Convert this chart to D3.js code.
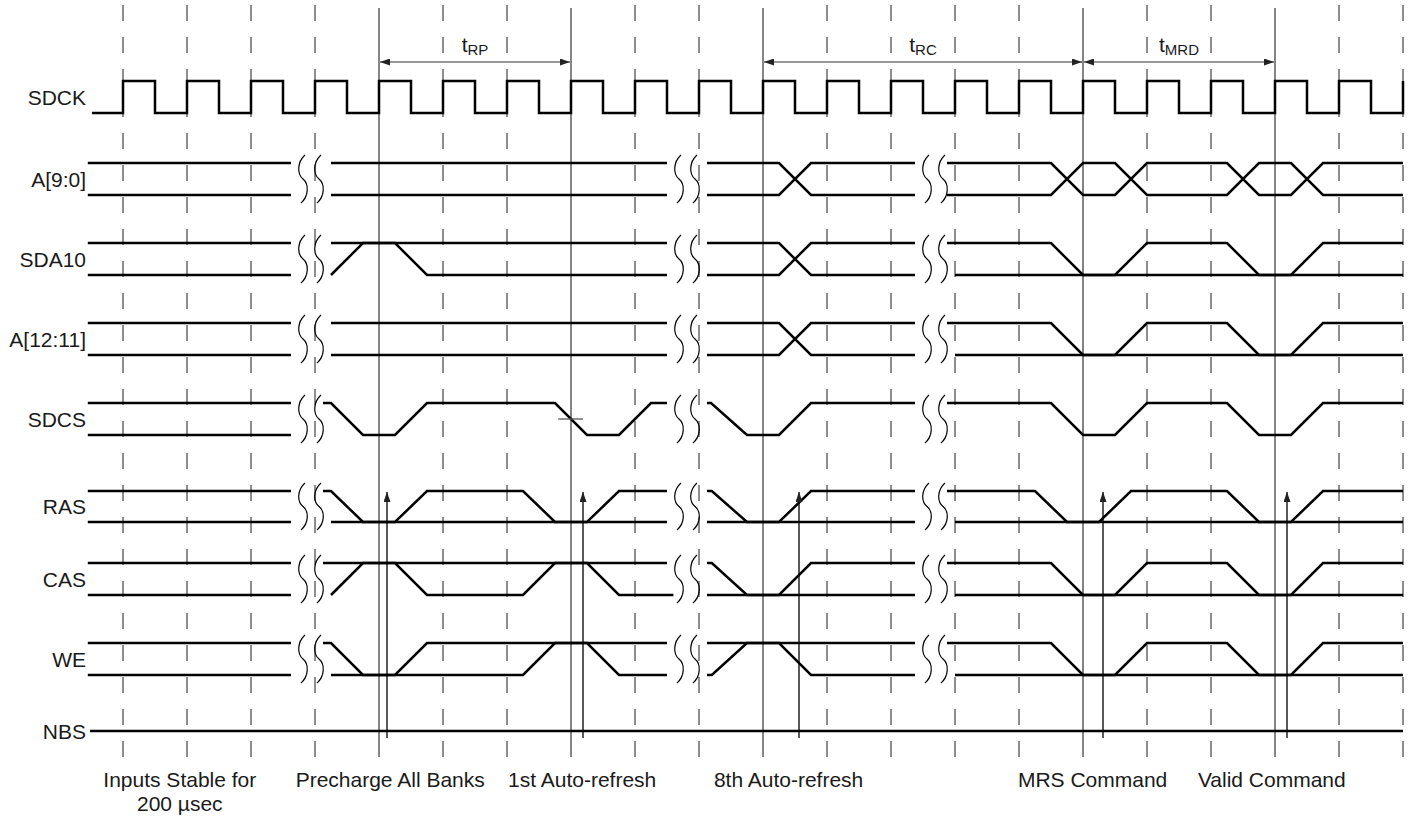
<!DOCTYPE html>
<html>
<head>
<meta charset="utf-8">
<script src="https://cdn.jsdelivr.net/npm/d3@7"></script>
<style>
  html, body { margin: 0; padding: 0; background: #fff; }
  svg { display: block; }
  text { font-family: "Liberation Sans", Arial, Helvetica, sans-serif; fill: #1a1a1a; }
</style>
</head>
<body>
<svg id="chart" width="1415" height="821"></svg>
<script>
// time unit = quarter of a clock period; clock rising edges every 4 units

// clock rising edges and half period
const clockRise = [0, 4, 8, 12, 16, 20, 24, 28, 32, 36, 40, 44, 48, 52, 56, 60, 64, 68, 72, 76, 80];
const clockHigh = 2;
const clockStart = -1.94;

// edges drawn as solid reference lines
const solidMarks = [16, 28, 40, 60, 72];

// timing spans on top
const spanLabels = ["RP", "RC", "MRD"];
const spanFrom = [16, 40, 60];
const spanTo = [28, 60, 72];

// command strobes (upward arrows)
const strobes = [16.5, 28.75, 42.25, 61.25, 72.75];

// bottom captions
const captions = [["Inputs Stable for", "200 \u00b5sec"], ["Precharge All Banks"], ["1st Auto-refresh"],
                  ["8th Auto-refresh"], ["MRS Command"], ["Valid Command"]];
const captionAt = [3.55, 16.7, 28.7, 41.6, 60.6, 71.8];

// break marks (end of drawn segment)
const breakEnd = [10.5, 34, 49.5];

// signal names
const signals = ["SDCK", "A[9:0]", "SDA10", "A[12:11]", "SDCS", "RAS", "CAS", "WE", "NBS"];

// waveforms: lists of polylines of [time, level]
const waveA90 = [
  [[-2.2, 1], [10.5, 1]], [[-2.2, 0], [10.5, 0]],
  [[13, 1], [34, 1]], [[13, 0], [34, 0]],
  [[36.5, 1], [41, 1], [43, 0], [49.5, 0]], [[36.5, 0], [41, 0], [43, 1], [49.5, 1]],
  [[51.5, 1], [58, 1], [60, 0], [62, 0], [64, 1], [69, 1], [71, 0], [73, 0], [75, 1], [80, 1]],
  [[51.5, 0], [58, 0], [60, 1], [62, 1], [64, 0], [69, 0], [71, 1], [73, 1], [75, 0], [80, 0]]
];
const waveSDA10 = [
  [[-2.2, 1], [10.5, 1]], [[-2.2, 0], [10.5, 0]],
  [[13, 1], [34, 1]], [[13, 0], [15, 1], [17, 1], [19, 0], [34, 0]],
  [[36.5, 1], [41, 1], [43, 0], [49.5, 0]], [[36.5, 0], [41, 0], [43, 1], [49.5, 1]],
  [[51.5, 1], [58, 1], [60, 0], [62, 0], [64, 1], [69, 1], [71, 0], [73, 0], [75, 1], [80, 1]],
  [[52, 0], [80, 0]]
];
const waveA1211 = [
  [[-2.2, 1], [10.5, 1]], [[-2.2, 0], [10.5, 0]],
  [[13, 1], [34, 1]], [[13, 0], [34, 0]],
  [[36.5, 1], [41, 1], [43, 0], [49.5, 0]], [[36.5, 0], [41, 0], [43, 1], [49.5, 1]],
  [[51.5, 1], [58, 1], [60, 0], [62, 0], [64, 1], [69, 1], [71, 0], [73, 0], [75, 1], [80, 1]],
  [[52, 0], [80, 0]]
];
const waveSDCS = [
  [[-2.2, 1], [10.5, 1]], [[-2.2, 0], [10.5, 0]],
  [[12.5, 1], [13, 1], [15, 0], [17, 0], [19, 1], [27, 1], [29, 0], [31, 0], [33, 1], [34, 1]],
  [[36.5, 1], [36.75, 1], [39, 0], [41, 0], [43, 1], [49.5, 1]],
  [[51.5, 1], [58, 1], [60, 0], [62, 0], [64, 1], [69, 1], [71, 0], [73, 0], [75, 1], [80, 1]]
];
const waveRAS = [
  [[-2.2, 1], [10.5, 1]], [[-2.2, 0], [10.5, 0]],
  [[12.5, 1], [13, 1], [15, 0], [17, 0], [19, 1], [25, 1], [27, 0], [29, 0], [31, 1], [34, 1]], [[13, 0], [34, 0]],
  [[36.5, 1], [36.8, 1], [39, 0], [41, 0], [43, 1], [49.5, 1]], [[36.5, 0], [49.5, 0]],
  [[51.5, 1], [57, 1], [59, 0], [61, 0], [63, 1], [69, 1], [71, 0], [73, 0], [75, 1], [80, 1]], [[52, 0], [80, 0]]
];
const waveCAS = [
  [[-2.2, 1], [10.5, 1]], [[-2.2, 0], [10.5, 0]],
  [[12.5, 1], [34, 1]], [[13, 0], [15, 1], [17, 1], [19, 0], [25, 0], [27, 1], [29, 1], [31, 0], [34.4, 0]],
  [[36.5, 1], [36.8, 1], [39, 0], [41, 0], [43, 1], [49.5, 1]], [[36.5, 0], [49.5, 0]],
  [[51.5, 1], [58, 1], [60, 0], [62, 0], [64, 1], [69, 1], [71, 0], [73, 0], [75, 1], [80, 1]], [[52, 0], [80, 0]]
];
const waveWE = [
  [[-2.2, 1], [10.5, 1]], [[-2.2, 0], [10.5, 0]],
  [[12.5, 1], [13, 1], [15, 0], [17, 0], [19, 1], [34, 1]], [[13, 0], [25, 0], [27, 1], [29, 1], [31, 0], [34, 0]],
  [[36.5, 1], [49.5, 1]], [[36.5, 0], [36.8, 0], [39, 1], [41, 1], [43, 0], [49.5, 0]],
  [[51.5, 1], [58, 1], [60, 0], [62, 0], [64, 1], [69, 1], [71, 0], [73, 0], [75, 1], [80, 1]], [[52, 0], [80, 0]]
];
const waveNBS = [
  [[-2.06, 0], [80, 0]]
];

// SDCS crossing marker
const sdcsMarkFrom = 27.2, sdcsMarkTo = 28.75;

// ---- layout ----
const rowY = {
  "SDCK": [113, 81], "A[9:0]": [195, 163], "SDA10": [275, 243], "A[12:11]": [355, 323],
  "SDCS": [435, 403], "RAS": [522, 491], "CAS": [595, 563], "WE": [675, 643], "NBS": [731, 731]
};
const gridTop = 6, gridBottom = 757;
const labelX = 86;

const svg = d3.select('#chart');
const x = d3.scaleLinear().domain([0, 80]).range([123, 1403]);
const yOf = name => d3.scaleLinear().domain([0, 1]).range(rowY[name]);

// 箭头
const defs = svg.append('defs');
defs.append('marker')
    .attr('id', 'head')
    .attr('markerUnits', 'userSpaceOnUse')
    .attr('viewBox', '0 0 10 7')
    .attr('refX', 10).attr('refY', 3.5)
    .attr('markerWidth', 10).attr('markerHeight', 7)
    .attr('orient', 'auto-start-reverse')
    .append('path')
    .attr('d', 'M0,0 L10,3.5 L0,7 Z')
    .attr('fill', '#222');

// 虚线网格
const grid = svg.append('g').attr('class', 'grid');
grid.selectAll('line.dash')
    .data(clockRise.filter(t => !solidMarks.includes(t)))
    .enter().append('line')
    .attr('class', 'dash')
    .attr('x1', d => x(d)).attr('x2', d => x(d))
    .attr('y1', 5).attr('y2', gridBottom)
    .attr('stroke', '#444')
    .attr('stroke-width', 1.2)
    .attr('stroke-dasharray', '16,16');

grid.selectAll('line.solid')
    .data(solidMarks)
    .enter().append('line')
    .attr('class', 'solid')
    .attr('x1', d => x(d)).attr('x2', d => x(d))
    .attr('y1', gridTop + 2).attr('y2', gridBottom)
    .attr('stroke', '#333')
    .attr('stroke-width', 1.2);

// 时序标注
const spans = svg.append('g').attr('class', 'spans');
spanLabels.forEach((lab, i) => {
    spans.append('line')
        .attr('x1', x(spanFrom[i]) + 1).attr('x2', x(spanTo[i]) - 1)
        .attr('y1', 62).attr('y2', 62)
        .attr('stroke', '#333').attr('stroke-width', 1.1)
        .attr('marker-start', 'url(#head)')
        .attr('marker-end', 'url(#head)');
    const t = spans.append('text')
        .attr('x', (x(spanFrom[i]) + x(spanTo[i])) / 2)
        .attr('y', 52)
        .attr('text-anchor', 'middle');
    t.append('tspan').attr('font-size', 21).text('t');
    t.append('tspan').attr('font-size', 15).attr('dy', 3).text(lab);
});

// 时钟
const ck = yOf('SDCK');
const clockPts = [[clockStart, 0]];
clockRise.forEach((r, i) => {
    clockPts.push([r, 0], [r, 1]);
    if (i < clockRise.length - 1) clockPts.push([r + clockHigh, 1], [r + clockHigh, 0]);
});
const line = y => d3.line().x(d => x(d[0])).y(d => y(d[1]));

svg.append('path')
    .attr('d', line(ck)(clockPts))
    .attr('fill', 'none')
    .attr('stroke', '#000')
    .attr('stroke-width', 2.5);

// 波形
const waves = {
    "A[9:0]": waveA90, "SDA10": waveSDA10, "A[12:11]": waveA1211, "SDCS": waveSDCS,
    "RAS": waveRAS, "CAS": waveCAS, "WE": waveWE, "NBS": waveNBS
};
Object.keys(waves).forEach(name => {
    const y = yOf(name);
    svg.append('g').attr('class', 'wave')
        .selectAll('path')
        .data(waves[name])
        .enter().append('path')
        .attr('d', line(y))
        .attr('fill', 'none')
        .attr('stroke', '#000')
        .attr('stroke-width', 2.5)
        .attr('stroke-linejoin', 'miter');
});

// SDCS 交叉标记
const ys = yOf('SDCS');
svg.append('line')
    .attr('x1', x(sdcsMarkFrom)).attr('x2', x(sdcsMarkTo))
    .attr('y1', ys(0.5)).attr('y2', ys(0.5))
    .attr('stroke', '#555').attr('stroke-width', 1.3);

// 断开符号
function squiggle(cx, top, bottom) {
    const h = bottom - top;
    return `M ${cx + 2} ${top}
            C ${cx - 6} ${top + h * 0.15}, ${cx - 6} ${top + h * 0.4}, ${cx} ${top + h / 2}
            C ${cx + 6} ${top + h * 0.6}, ${cx + 6} ${top + h * 0.85}, ${cx - 2} ${bottom}`;
}
const breakRows = signals.filter(s => s !== 'SDCK' && s !== 'NBS');
const brk = svg.append('g').attr('class', 'breaks');
breakRows.forEach(name => {
    const [lo, hi] = rowY[name];
    breakEnd.forEach(e => {
        [e + 0.75, e + 1.75].forEach(p => {
            brk.append('path')
                .attr('d', squiggle(x(p), hi - 8, lo + 8))
                .attr('fill', 'none')
                .attr('stroke', '#000')
                .attr('stroke-width', 1.2);
        });
    });
});

// 向上箭头
svg.append('g').attr('class', 'strobes')
    .selectAll('line')
    .data(strobes)
    .enter().append('line')
    .attr('x1', d => x(d)).attr('x2', d => x(d))
    .attr('y1', 738).attr('y2', rowY['RAS'][1] + 1)
    .attr('stroke', '#000')
    .attr('stroke-width', 1.3)
    .attr('marker-end', 'url(#head)');

// 信号名
svg.append('g').attr('class', 'labels')
    .selectAll('text')
    .data(signals)
    .enter().append('text')
    .attr('x', labelX)
    .attr('y', d => (rowY[d][0] + rowY[d][1]) / 2)
    .attr('dy', '0.36em')
    .attr('text-anchor', 'end')
    .attr('font-size', 21)
    .text(d => d);

// 底部说明
const cap = svg.append('g').attr('class', 'captions');
captions.forEach((lines, i) => {
    lines.forEach((s, j) => {
        cap.append('text')
            .attr('x', x(captionAt[i]))
            .attr('y', 787 + j * 24)
            .attr('text-anchor', 'middle')
            .attr('font-size', 21)
            .text(s);
    });
});
</script>
</body>
</html>
